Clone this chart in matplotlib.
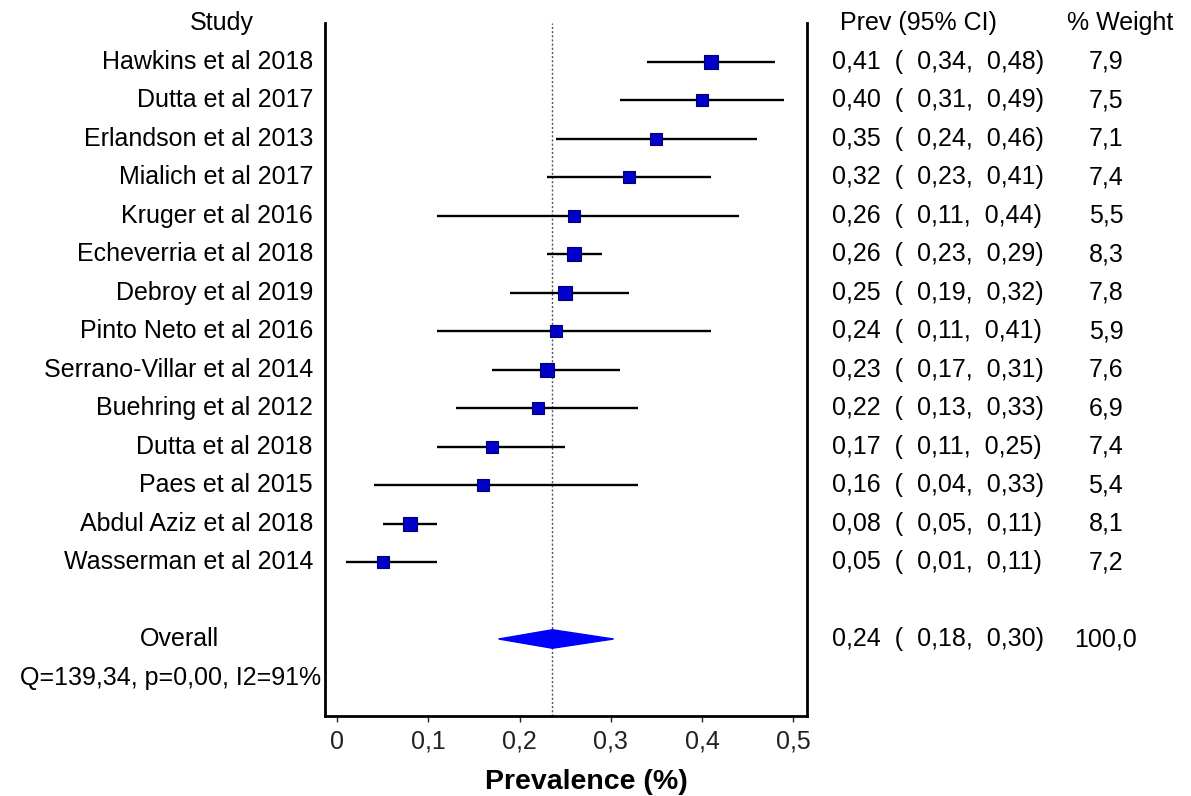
import matplotlib
matplotlib.use("Agg")
import matplotlib.pyplot as plt
from matplotlib.patches import Polygon

plt.rcParams['font.family'] = ['Liberation Sans', 'DejaVu Sans']

studies = ["Hawkins et al 2018", "Dutta et al 2017", "Erlandson et al 2013",
           "Mialich et al 2017", "Kruger et al 2016", "Echeverria et al 2018",
           "Debroy et al 2019", "Pinto Neto et al 2016", "Serrano-Villar et al 2014",
           "Buehring et al 2012", "Dutta et al 2018", "Paes et al 2015",
           "Abdul Aziz et al 2018", "Wasserman et al 2014"]
prev = [0.41, 0.40, 0.35, 0.32, 0.26, 0.26, 0.25, 0.24, 0.23, 0.22, 0.17, 0.16, 0.08, 0.05]
lo = [0.34, 0.31, 0.24, 0.23, 0.11, 0.23, 0.19, 0.11, 0.17, 0.13, 0.11, 0.04, 0.05, 0.01]
hi = [0.48, 0.49, 0.46, 0.41, 0.44, 0.29, 0.32, 0.41, 0.31, 0.33, 0.25, 0.33, 0.11, 0.11]
weight = [7.9, 7.5, 7.1, 7.4, 5.5, 8.3, 7.8, 5.9, 7.6, 6.9, 7.4, 5.4, 8.1, 7.2]

pooled = 0.236
pooled_lo = 0.177
pooled_hi = 0.303
pooled_w = 100.0
het_text = "Q=139,34, p=0,00, I2=91%"
xticks = [0, 0.1, 0.2, 0.3, 0.4, 0.5]


def fmt(v):
    return f"{v:.2f}".replace('.', ',')


fig = plt.figure(figsize=(11.91, 7.96), dpi=100)
ax = fig.add_axes([0.2729, 0.1005, 0.4047, 0.8706])

n = len(studies)
rows = list(range(n))
for i in rows:
    ax.plot([lo[i], hi[i]], [i, i], color='black', lw=1.7, solid_capstyle='butt', zorder=2)
    # square side grows with study weight
    ax.plot(prev[i], i, marker='s', ms=(7 + 0.8 * weight[i]) / 1.389, mfc='#0000c8',
            mec='#000070', mew=0.8, zorder=3)

y_all = n + 1
diamond = Polygon([[pooled_lo, y_all], [pooled, y_all - 0.24],
                   [pooled_hi, y_all], [pooled, y_all + 0.24]],
                  closed=True, fc='#0000ff', ec='#0000ff', zorder=3)
ax.add_patch(diamond)
ax.axvline(pooled, color='#555555', lw=1, ls=(0, (1.5, 1.5)), zorder=1)

ax.set_xlim(-0.0132, 0.515)
ax.set_ylim(n + 3, -1)
ax.set_yticks([])
ax.set_xticks(xticks)
ax.set_xticklabels([fmt(t).rstrip('0').rstrip(',') if t != 0 else '0' for t in xticks])
ax.tick_params(axis='x', labelsize=18, length=4, width=1, pad=6, colors='#222222')
ax.spines['top'].set_visible(False)
for s in ['left', 'right', 'bottom']:
    ax.spines[s].set_linewidth(2)

tr = ax.get_yaxis_transform()
fs = 18
ax.text(-0.215, -1, "Study", transform=tr, ha='center', va='center', fontsize=fs)
ax.text(1.068, -1, "Prev (95% CI)", transform=tr, ha='left', va='center', fontsize=fs)
ax.text(1.539, -1, "% Weight", transform=tr, ha='left', va='center', fontsize=fs)
for i in rows:
    ax.text(-0.025, i, studies[i], transform=tr, ha='right', va='center', fontsize=fs)
    ax.text(1.052, i, f"{fmt(prev[i])}  (  {fmt(lo[i])},  {fmt(hi[i])})",
            transform=tr, ha='left', va='center', fontsize=fs)
    ax.text(1.620, i, f"{weight[i]:.1f}".replace('.', ','), transform=tr,
            ha='center', va='center', fontsize=fs)

ax.text(-0.303, y_all, "Overall", transform=tr, ha='center', va='center', fontsize=fs)
ax.text(1.052, y_all, f"{fmt(pooled)}  (  {fmt(pooled_lo)},  {fmt(pooled_hi)})",
        transform=tr, ha='left', va='center', fontsize=fs)
ax.text(1.620, y_all, f"{pooled_w:.1f}".replace('.', ','), transform=tr,
        ha='center', va='center', fontsize=fs)
ax.text(-0.008, y_all + 1, het_text, transform=tr, ha='right', va='center', fontsize=fs)

fig.text(586 / 1191, 1 - 782 / 796, "Prevalence (%)", ha='center', va='center',
         fontsize=20.5, fontweight='bold')

fig.savefig("out.png", dpi=100)
